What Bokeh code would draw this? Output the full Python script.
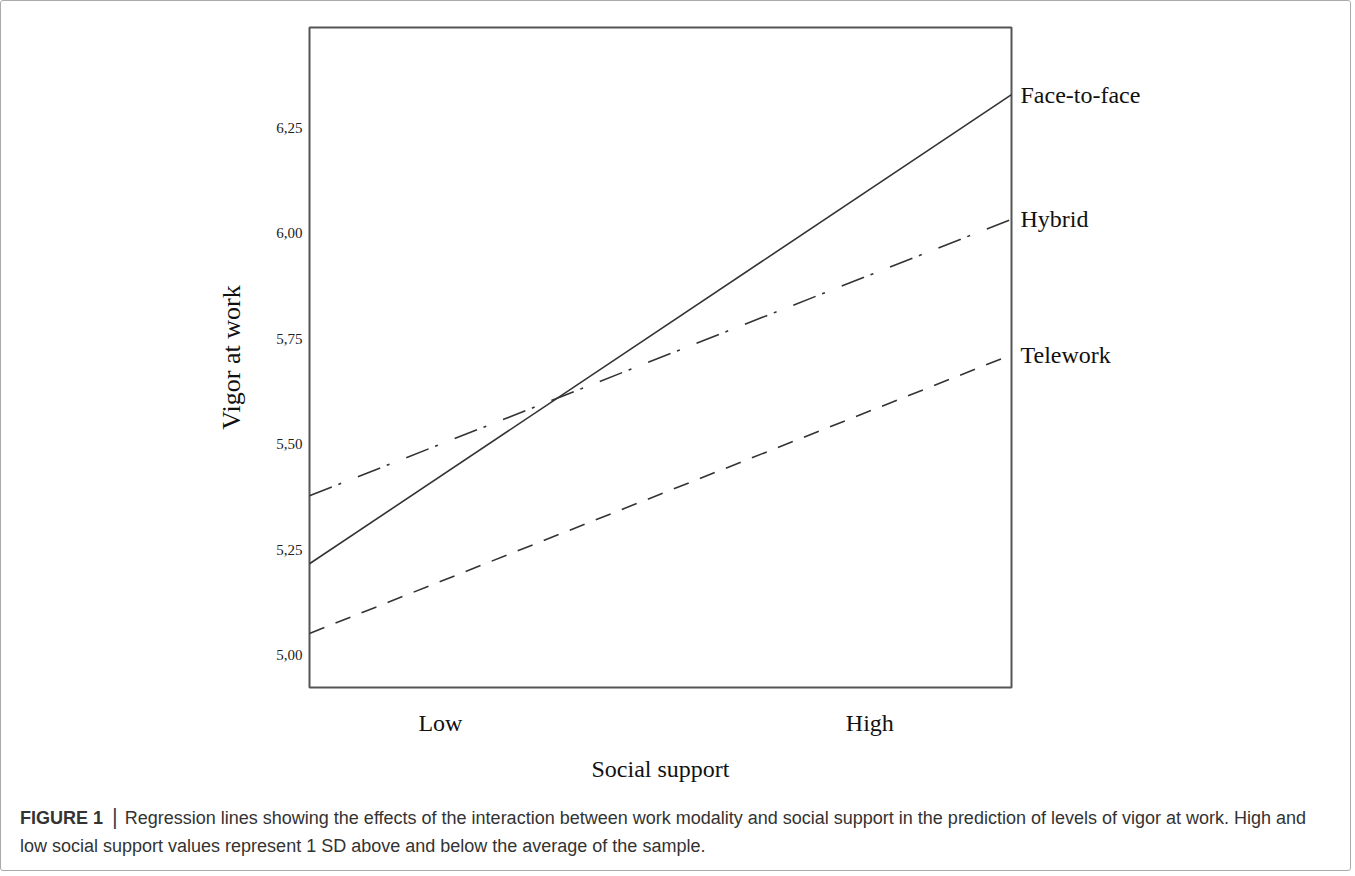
from bokeh.plotting import figure
from bokeh.models import Range1d, FixedTicker, LinearAxis, Div
from bokeh.layouts import column
from bokeh.embed import file_html
from bokeh.resources import INLINE

# ---- data ----
x_levels = ["Low", "High"]
x_level_pos = [-1.0, 1.0]          # -1 SD / +1 SD
x_line = [-1.61, 1.66]             # lines span the whole frame
series = ["Face-to-face", "Hybrid", "Telework"]
face_to_face = [5.217, 6.328]
hybrid = [5.378, 6.033]
telework = [5.052, 5.712]
y_ticks = [5.00, 5.25, 5.50, 5.75, 6.00, 6.25]
y_tick_labels = ["5,00", "5,25", "5,50", "5,75", "6,00", "6,25"]
caption_head = "FIGURE 1"
caption_line1 = ("Regression lines showing the effects of the interaction between work modality "
                 "and social support in the prediction of levels of vigor at work. High and")
caption_line2 = "low social support values represent 1 SD above and below the average of the sample."

SERIF = "Liberation Serif"
W = 1349
H1 = 795
FL, FT, FR, FB = 308, 26, 1010, 686   # frame box in figure pixels

p = figure(width=W, height=H1, output_backend="svg", toolbar_location=None,
           x_range=Range1d(x_line[0], x_line[1]), y_range=Range1d(4.924, 6.487),
           min_border_left=FL, min_border_right=W - FR,
           min_border_top=FT, min_border_bottom=H1 - FB)
p.grid.visible = False
p.outline_line_color = "#555555"
p.outline_line_width = 2
p.background_fill_color = "white"
p.border_fill_color = "white"

# y axis
ya = p.yaxis[0]
ya.ticker = FixedTicker(ticks=y_ticks)
ya.major_label_overrides = {t: l for t, l in zip(y_ticks, y_tick_labels)}
ya.major_tick_in = 0
ya.major_tick_out = 0
ya.minor_tick_in = 0
ya.minor_tick_out = 0
ya.axis_line_color = None
ya.major_label_standoff = 7
ya.major_label_text_font = SERIF
ya.major_label_text_font_size = "15px"
ya.major_label_text_color = "#222222"
ya.axis_label = "Vigor at work"
ya.axis_label_text_font = SERIF
ya.axis_label_text_font_size = "26px"
ya.axis_label_text_font_style = "normal"
ya.axis_label_text_color = "#111111"
ya.axis_label_standoff = 27

# x axis
xa = p.xaxis[0]
xa.ticker = FixedTicker(ticks=x_level_pos)
xa.major_label_overrides = {t: l for t, l in zip(x_level_pos, x_levels)}
xa.major_tick_in = 0
xa.major_tick_out = 0
xa.minor_tick_in = 0
xa.minor_tick_out = 0
xa.axis_line_color = None
xa.major_label_standoff = 22
xa.major_label_text_font = SERIF
xa.major_label_text_font_size = "24px"
xa.major_label_text_color = "#111111"
xa.axis_label = "Social support"
xa.axis_label_text_font = SERIF
xa.axis_label_text_font_size = "24px"
xa.axis_label_text_font_style = "normal"
xa.axis_label_text_color = "#111111"
xa.axis_label_standoff = 17

# right axis carrying the line names at the lines' end values
ends = [face_to_face[1], hybrid[1], telework[1]]
ra = LinearAxis(ticker=FixedTicker(ticks=ends),
                major_label_overrides={v: n for v, n in zip(ends, series)})
ra.major_tick_in = 0
ra.major_tick_out = 0
ra.minor_tick_in = 0
ra.minor_tick_out = 0
ra.axis_line_color = None
ra.major_label_standoff = 9
ra.major_label_text_font = SERIF
ra.major_label_text_font_size = "24px"
ra.major_label_text_color = "#111111"
p.add_layout(ra, "right")

# lines
p.line(x_line, face_to_face, line_color="#333333", line_width=1.6)
p.line(x_line, hybrid, line_color="#333333", line_width=1.6, line_dash="24 7 3 18")
p.line(x_line, telework, line_color="#333333", line_width=1.6, line_dash="16 12")

# caption
cap_html = (
    '<div style="font-family: \'Liberation Sans\', Arial, sans-serif; font-size: 18px; '
    'color: #333333; line-height: 28px; white-space: nowrap; margin: 0; padding: 7px 0 0 19px;">'
    f'<b>{caption_head}</b>'
    '<span style="font-size: 22px; font-weight: 300; color: #444444; margin: 0 7px 0 9px;">|</span>'
    f'{caption_line1}<br>{caption_line2}</div>'
)
cap = Div(text=cap_html, width=W, height=74, margin=0)

layout = column(p, cap, spacing=0, styles={"border": "1px solid #aaaaaa", "border-radius": "3px"})

open("out.html", "w").write(file_html(layout, INLINE))
